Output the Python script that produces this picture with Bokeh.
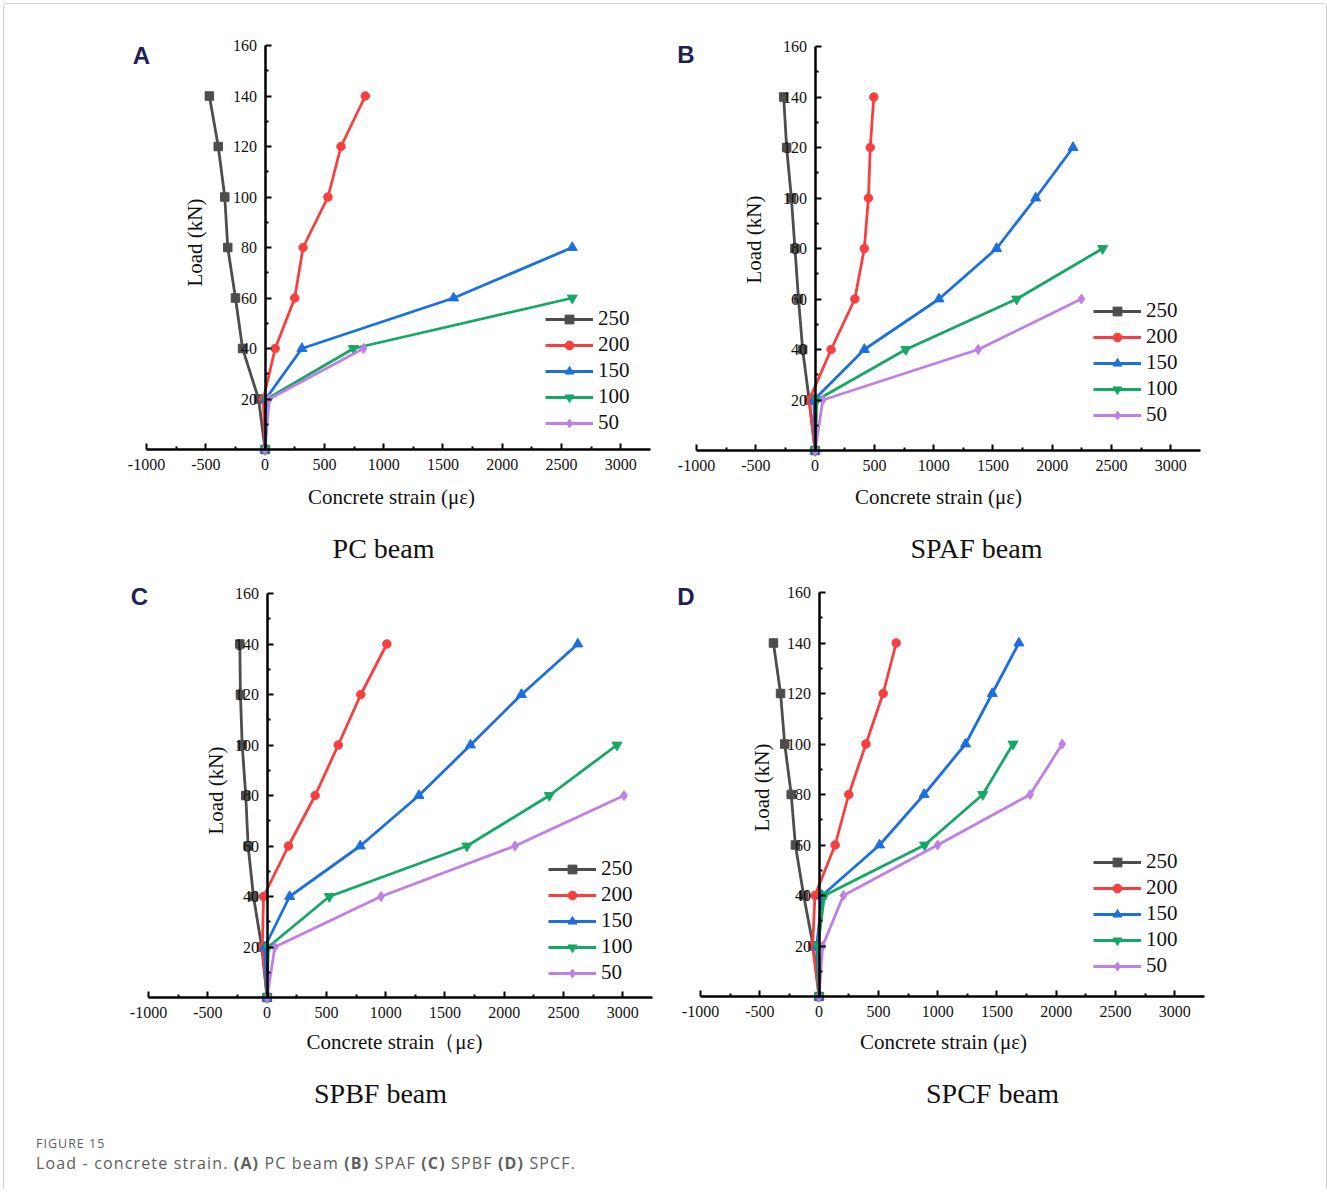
import math
from bokeh.plotting import figure
from bokeh.models import FixedTicker, Legend, LegendItem, Label, Div
from bokeh.layouts import column, row
from bokeh.embed import file_html
from bokeh.resources import INLINE

# ---------------- data ----------------
loads = [0, 20, 40, 60, 80, 100, 120, 140]
series_names = ["250", "200", "150", "100", "50"]

# Panel A - PC beam (concrete strain, microstrain)
a_250 = [0, -55, -190, -250, -315, -340, -395, -470]
a_200 = [0, -15, 85, 250, 320, 530, 640, 845]
a_150 = [0, 5, 310, 1590, 2590]
a_100 = [0, 15, 745, 2590]
a_50 = [0, 35, 830]

# Panel B - SPAF beam
b_250 = [0, -50, -105, -140, -170, -200, -240, -265]
b_200 = [0, -50, 135, 335, 415, 450, 465, 495]
b_150 = [0, -10, 415, 1045, 1530, 1860, 2175]
b_100 = [0, 15, 765, 1700, 2425]
b_50 = [0, 65, 1375, 2245]

# Panel C - SPBF beam
c_250 = [0, -45, -115, -160, -180, -210, -225, -230]
c_200 = [0, -40, -30, 180, 405, 600, 790, 1010]
c_150 = [0, -20, 190, 785, 1280, 1715, 2145, 2620]
c_100 = [0, 10, 525, 1685, 2380, 2950]
c_50 = [0, 65, 960, 2090, 3010]

# Panel D - SPCF beam
d_250 = [0, -50, -130, -200, -235, -290, -325, -385]
d_200 = [0, -55, -35, 135, 250, 395, 540, 650]
d_150 = [0, -20, 25, 510, 885, 1235, 1460, 1685]
d_100 = [0, -10, 45, 890, 1380, 1635]
d_50 = [0, 30, 205, 1000, 1780, 2050]

x_ticks = [-1000, -500, 0, 500, 1000, 1500, 2000, 2500, 3000]
x_minor = [-750, -250, 250, 750, 1250, 1750, 2250, 2750]
y_ticks = [20, 40, 60, 80, 100, 120, 140, 160]
y_minor = [10, 30, 50, 70, 90, 110, 130, 150]
x_axis_span = (-1000, 3250)
y_axis_span = (0, 160)

colors = ["#4d4d4d", "#f83f3f", "#1b6fe0", "#14a865", "#c07fe8"]
markers = ["square", "circle", "triangle", "inverted_triangle", "diamond"]
msizes = [8.5, 8.5, 10, 10, 10]

SERIF = "Liberation Serif"

# ---------------- geometry (page pixels) ----------------
SX = 504 / 4250.0   # px per microstrain
SY = 404 / 160.0    # px per kN


def make_panel(series, fig_box, origin, letter, letter_px, subtitle, subtitle_px,
               x_label, xlab_px, ylab_px, legend_loc):
    fx0, fy0, fx1, fy1 = fig_box
    X0, Y0 = origin

    def dx(px):
        return (px - X0) / SX

    def dy(py):
        return (Y0 - py) / SY

    p = figure(width=fx1 - fx0, height=fy1 - fy0,
               x_range=(dx(fx0), dx(fx1)), y_range=(dy(fy1), dy(fy0)),
               output_backend="svg", toolbar_location=None, title=None,
               min_border_left=0, min_border_right=0,
               min_border_top=0, min_border_bottom=0)
    p.grid.visible = False
    p.outline_line_color = None
    p.background_fill_color = "white"
    p.border_fill_color = "white"

    xa = p.xaxis[0]
    ya = p.yaxis[0]
    xa.fixed_location = 0
    ya.fixed_location = 0
    xa.bounds = x_axis_span
    ya.bounds = y_axis_span
    xa.ticker = FixedTicker(ticks=x_ticks, minor_ticks=x_minor)
    ya.ticker = FixedTicker(ticks=y_ticks, minor_ticks=y_minor)
    xa.major_label_overrides = {t: str(t) for t in x_ticks}
    ya.major_label_overrides = {t: str(t) for t in y_ticks}
    for ax in (xa, ya):
        ax.axis_line_width = 2.5
        ax.axis_line_color = "black"
        ax.major_tick_in = 6
        ax.major_tick_out = 0
        ax.minor_tick_in = 3
        ax.minor_tick_out = 0
        ax.major_tick_line_width = 2
        ax.minor_tick_line_width = 2
        ax.major_tick_line_color = "black"
        ax.minor_tick_line_color = "black"
        ax.major_label_text_font = SERIF
        ax.major_label_text_font_size = "16px"
        ax.major_label_text_color = "#111111"
    xa.major_label_standoff = 9
    ya.major_label_standoff = 8

    items = []
    for name, strains, col, mk, ms in zip(series_names, series, colors, markers, msizes):
        ys = loads[:len(strains)]
        lr = p.line(strains, ys, line_color=col, line_width=2.8)
        sr = p.scatter(strains, ys, marker=mk, size=ms, fill_color=col, line_color=col)
        items.append(LegendItem(label=name, renderers=[lr, sr]))

    leg = Legend(items=items, location=legend_loc, padding=0, margin=0, spacing=1,
                 glyph_width=48, glyph_height=22, label_height=22, label_standoff=5,
                 label_text_font=SERIF, label_text_font_size="21px",
                 label_text_color="#111111",
                 background_fill_alpha=0, border_line_color=None)
    p.add_layout(leg)

    # axis titles
    p.add_layout(Label(x=dx(xlab_px[0]), y=dy(xlab_px[1]), text=x_label,
                       text_font=SERIF, text_font_size="21px", text_color="#111111",
                       text_align="center", text_baseline="middle"))
    p.add_layout(Label(x=dx(ylab_px[0]), y=dy(ylab_px[1]), text="Load (kN)",
                       angle=math.pi / 2,
                       text_font=SERIF, text_font_size="21px", text_color="#111111",
                       text_align="center", text_baseline="middle"))
    # panel letter and subtitle
    p.add_layout(Label(x=dx(letter_px[0]), y=dy(letter_px[1]), text=letter,
                       text_font="Liberation Sans", text_font_style="bold",
                       text_font_size="24px", text_color="#1f2155",
                       text_align="center", text_baseline="middle"))
    p.add_layout(Label(x=dx(subtitle_px[0]), y=dy(subtitle_px[1]), text=subtitle,
                       text_font=SERIF, text_font_size="28px", text_color="#111111",
                       text_align="center", text_baseline="middle"))
    return p


pa = make_panel([a_250, a_200, a_150, a_100, a_50], (4, 4, 665, 579), (264.6, 449),
                "A", (141, 54.5), "PC beam", (383, 548),
                "Concrete strain (με)", (391, 496), (194, 242), (541, 144))
pb = make_panel([b_250, b_200, b_150, b_100, b_50], (665, 4, 1326, 579), (814.6, 450),
                "B", (685.5, 54), "SPAF beam", (976, 548),
                "Concrete strain (με)", (938, 496), (753, 239), (428, 152))
pc = make_panel([c_250, c_200, c_150, c_100, c_50], (4, 579, 665, 1119), (266.6, 997),
                "C", (139, 596), "SPBF beam", (380, 1093),
                "Concrete strain（με)", (394, 1041), (215, 790), (544, 134))
pd = make_panel([d_250, d_200, d_150, d_100, d_50], (665, 579, 1326, 1119), (818.6, 996),
                "D", (685.5, 596), "SPCF beam", (992, 1093),
                "Concrete strain (με)", (943, 1041), (761, 787), (428, 141))

caption = Div(text=(
    "<div style=\"font-family:'Open Sans',sans-serif;color:#5e5e5e;padding-left:32px;padding-top:17px;\">"
    "<div style=\"font-size:12.5px;line-height:16px;letter-spacing:1px;\">FIGURE 15</div>"
    "<div style=\"font-size:16px;line-height:22px;letter-spacing:1.15px;\">Load - concrete strain. <b>(A)</b> PC beam "
    "<b>(B)</b> SPAF <b>(C)</b> SPBF <b>(D)</b> SPCF.</div></div>"),
    width=1322, height=70, margin=(0, 0, 0, 0))

layout = column(row(pa, pb), row(pc, pd), caption,
                margin=(3, 0, 0, 3),
                styles={"border-left": "1px solid #cfcfcf", "border-top": "1px solid #cfcfcf",
                        "border-right": "1px solid #cfcfcf", "border-radius": "4px 4px 0 0"})

open("out.html", "w").write(file_html(layout, INLINE))
